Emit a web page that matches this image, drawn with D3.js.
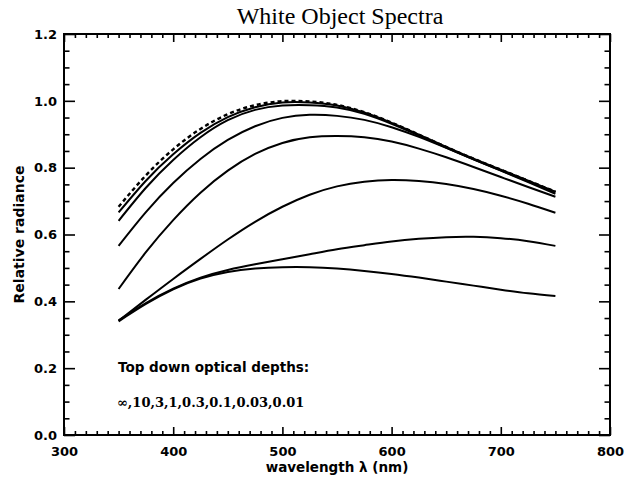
<!DOCTYPE html>
<html>
<head>
<meta charset="utf-8">
<script src="https://cdn.jsdelivr.net/npm/d3@7"></script>
<style>
  html, body { margin: 0; padding: 0; background: #fff; }
  svg { display: block; }
</style>
</head>
<body>
<svg id="chart" width="633" height="479"></svg>
<script>
// Wavelength samples (nm)
const wavelengths = [350, 375, 400, 425, 450, 475, 500, 525, 550, 575, 600, 625, 650, 675, 700, 725, 750];

// Relative radiance for each optical depth, top down
const depthInf = [0.683, 0.777, 0.855, 0.916, 0.960, 0.987, 0.999, 0.998, 0.988, 0.966, 0.935, 0.899, 0.862, 0.827, 0.794, 0.761, 0.728];
const depth10  = [0.666, 0.761, 0.840, 0.904, 0.951, 0.981, 0.995, 0.995, 0.986, 0.965, 0.934, 0.899, 0.862, 0.827, 0.794, 0.761, 0.728];
const depth3   = [0.641, 0.740, 0.823, 0.891, 0.942, 0.973, 0.986, 0.987, 0.980, 0.961, 0.931, 0.896, 0.860, 0.825, 0.792, 0.759, 0.727];
const depth1   = [0.566, 0.667, 0.754, 0.826, 0.883, 0.924, 0.949, 0.958, 0.955, 0.943, 0.921, 0.892, 0.859, 0.825, 0.791, 0.757, 0.722];
const depth03  = [0.437, 0.547, 0.643, 0.725, 0.791, 0.841, 0.874, 0.891, 0.895, 0.891, 0.878, 0.857, 0.831, 0.802, 0.772, 0.742, 0.713];
const depth01  = [0.342, 0.405, 0.467, 0.527, 0.585, 0.638, 0.683, 0.719, 0.744, 0.758, 0.763, 0.760, 0.751, 0.736, 0.716, 0.692, 0.665];
const depth003 = [0.343, 0.395, 0.438, 0.471, 0.494, 0.511, 0.526, 0.541, 0.556, 0.568, 0.579, 0.587, 0.592, 0.593, 0.589, 0.580, 0.566];
const depth001 = [0.340, 0.392, 0.436, 0.468, 0.488, 0.498, 0.502, 0.502, 0.498, 0.491, 0.482, 0.471, 0.459, 0.447, 0.435, 0.424, 0.416];

const seriesList = [
  { name: "inf",  values: depthInf, dashed: true },
  { name: "10",   values: depth10 },
  { name: "3",    values: depth3 },
  { name: "1",    values: depth1 },
  { name: "0.3",  values: depth03 },
  { name: "0.1",  values: depth01 },
  { name: "0.03", values: depth003 },
  { name: "0.01", values: depth001 }
];

// Axis ticks
const xMajorTicks = [300, 400, 500, 600, 700, 800];
const yMajorTicks = [0.0, 0.2, 0.4, 0.6, 0.8, 1.0, 1.2];

const titleText = "White Object Spectra";
const xTitle = "wavelength \u03bb (nm)";
const yTitle = "Relative radiance";
const noteLine1 = "Top down optical depths:";
const noteLine2 = "\u221e,10,3,1,0.3,0.1,0.03,0.01";

const svg = d3.select("#chart");
const plotLeft = 64, plotRight = 610, plotTop = 34, plotBottom = 435;

const x = d3.scaleLinear().domain([300, 800]).range([plotLeft, plotRight]);
const y = d3.scaleLinear().domain([0, 1.2]).range([plotBottom, plotTop]);

const xMinor = d3.range(300, 801, 10).filter(v => v % 100 !== 0);
const yMinor = d3.range(0, 25).map(i => +(i * 0.05).toFixed(2)).filter((v, i) => i % 4 !== 0);

const tickFont = "'DejaVu Sans', sans-serif";

function styleAxis(g) {
  g.select(".domain").remove();
  g.selectAll(".tick line").attr("stroke", "#000").attr("stroke-width", 1.6);
}

// Bottom axis: major ticks with labels, minor ticks inward
svg.append("g").attr("transform", `translate(0,${plotBottom})`)
  .call(d3.axisBottom(x).tickValues(xMajorTicks).tickSize(-8).tickPadding(12).tickFormat(d3.format("d")))
  .call(styleAxis)
  .call(g => g.selectAll("text").attr("font-family", tickFont).attr("font-weight", "bold")
    .attr("font-size", 13).attr("fill", "#000"));
svg.append("g").attr("transform", `translate(0,${plotBottom})`)
  .call(d3.axisBottom(x).tickValues(xMinor).tickSize(-4).tickFormat(""))
  .call(styleAxis);

// Top axis, ticks only
svg.append("g").attr("transform", `translate(0,${plotTop})`)
  .call(d3.axisTop(x).tickValues(xMajorTicks).tickSize(-8).tickFormat(""))
  .call(styleAxis);
svg.append("g").attr("transform", `translate(0,${plotTop})`)
  .call(d3.axisTop(x).tickValues(xMinor).tickSize(-4).tickFormat(""))
  .call(styleAxis);

// Left axis
svg.append("g").attr("transform", `translate(${plotLeft},0)`)
  .call(d3.axisLeft(y).tickValues(yMajorTicks).tickSize(-11).tickPadding(7).tickFormat(d3.format(".1f")))
  .call(styleAxis)
  .call(g => g.selectAll("text").attr("font-family", tickFont).attr("font-weight", "bold")
    .attr("font-size", 13).attr("fill", "#000"));
svg.append("g").attr("transform", `translate(${plotLeft},0)`)
  .call(d3.axisLeft(y).tickValues(yMinor).tickSize(-5.5).tickFormat(""))
  .call(styleAxis);

// Right axis, ticks only
svg.append("g").attr("transform", `translate(${plotRight},0)`)
  .call(d3.axisRight(y).tickValues(yMajorTicks).tickSize(-11).tickFormat(""))
  .call(styleAxis);
svg.append("g").attr("transform", `translate(${plotRight},0)`)
  .call(d3.axisRight(y).tickValues(yMinor).tickSize(-5.5).tickFormat(""))
  .call(styleAxis);

// Plot frame
svg.append("rect")
  .attr("x", plotLeft).attr("y", plotTop)
  .attr("width", plotRight - plotLeft).attr("height", plotBottom - plotTop)
  .attr("fill", "none").attr("stroke", "#000").attr("stroke-width", 2);

// Spectra
const line = d3.line()
  .x((d, i) => x(wavelengths[i]))
  .y(d => y(d))
  .curve(d3.curveNatural);

svg.append("g").selectAll("path")
  .data(seriesList)
  .join("path")
  .attr("d", s => line(s.values))
  .attr("fill", "none")
  .attr("stroke", "#000")
  .attr("stroke-width", s => s.dashed ? 2.4 : 2)
  .attr("stroke-dasharray", s => s.dashed ? "4,3" : null);

// Title
svg.append("text")
  .attr("x", 340).attr("y", 24)
  .attr("text-anchor", "middle")
  .attr("font-family", "'Liberation Serif', 'Times New Roman', serif")
  .attr("font-size", 24)
  .text(titleText);

// Axis titles
svg.append("text")
  .attr("x", (plotLeft + plotRight) / 2).attr("y", 472)
  .attr("text-anchor", "middle")
  .attr("font-family", tickFont).attr("font-weight", "bold").attr("font-size", 13.5)
  .text(xTitle);

svg.append("text")
  .attr("transform", `translate(24,${(plotTop + plotBottom) / 2}) rotate(-90)`)
  .attr("text-anchor", "middle")
  .attr("font-family", tickFont).attr("font-weight", "bold").attr("font-size", 14)
  .text(yTitle);

// Annotation
svg.append("text")
  .attr("x", 118).attr("y", 372)
  .attr("font-family", tickFont).attr("font-weight", "bold").attr("font-size", 13.5)
  .text(noteLine1);

svg.append("text")
  .attr("x", 117).attr("y", 407)
  .attr("font-family", "'DejaVu Serif', serif").attr("font-weight", "bold").attr("font-size", 13)
  .text(noteLine2);
</script>
</body>
</html>
